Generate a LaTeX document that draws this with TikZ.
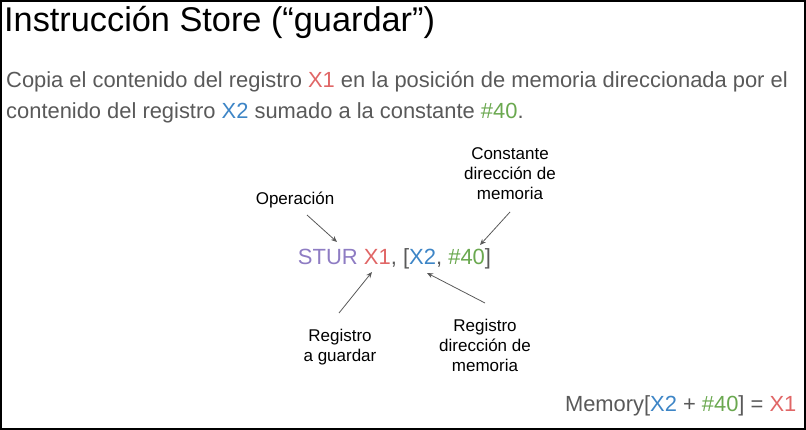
\documentclass[tikz,border=0pt]{standalone}
\usepackage{fontspec}
\setmainfont{Liberation Sans}
\usepackage{xcolor}
\usepackage{tikz}
\usetikzlibrary{arrows.meta}
\definecolor{textgray}{HTML}{595959}
\definecolor{regred}{HTML}{E06666}
\definecolor{regblue}{HTML}{3D85C6}
\definecolor{constgreen}{HTML}{6AA84F}
\definecolor{oppurple}{HTML}{8E7CC3}
\tikzstyle{title}=[anchor=base west, inner sep=0, font=\fontsize{34.3}{40}\selectfont]
\tikzstyle{body}=[anchor=base west, inner sep=0, text=textgray, font=\fontsize{21.9}{30.5}\selectfont]
\tikzstyle{label}=[inner sep=0, align=center, font=\fontsize{17}{20}\selectfont]
\tikzstyle{pointer}=[-{Stealth[length=6pt, width=5pt]}, draw=textgray, line width=0.8pt]
\newcommand{\rx}[1]{\textcolor{regred}{#1}}
\newcommand{\bx}[1]{\textcolor{regblue}{#1}}
\newcommand{\gx}[1]{\textcolor{constgreen}{#1}}
\pgfdeclarelayer{nodelayer}
\pgfdeclarelayer{edgelayer}
\pgfsetlayers{main,edgelayer,nodelayer}
\begin{document}
\begin{tikzpicture}[x=1pt, y=-1pt]
	\useasboundingbox (0,0) rectangle (806,430);
	\draw [line width=1.6pt] (0.8,0.8) rectangle (805.2,429.2);
	\begin{pgfonlayer}{nodelayer}
		\node [style=title] (0) at (4, 32) {Instrucción Store (“guardar”)};
		\node [style=body] (1) at (6, 88) {Copia el contenido del registro \rx{X1} en la posición de memoria direccionada por el};
		\node [style=body] (2) at (6, 118.5) {contenido del registro \bx{X2} sumado a la constante \gx{\#40}.};
		\node [style=body, anchor=base, font=\fontsize{22}{26}\selectfont] (3) at (394.5, 265) {\textcolor{oppurple}{STUR} \rx{X1}, [\bx{X2}, \gx{\#40}]};
		\node [style=label, anchor=base] (4) at (295, 205) {Operación};
		\node [style=label] (5) at (510, 173.8) {Constante\\dirección de\\memoria};
		\node [style=label] (6) at (340, 347.5) {Registro\\a guardar};
		\node [style=label] (7) at (485, 345.8) {Registro\\dirección de\\memoria};
		\node [style=body, anchor=base east] (8) at (796.5, 411) {Memory[\bx{X2} + \gx{\#40}] = \rx{X1}};
	\end{pgfonlayer}
	\begin{pgfonlayer}{edgelayer}
		\coordinate (9) at (307, 215);
		\coordinate (10) at (337, 242);
		\coordinate (11) at (510, 212);
		\coordinate (12) at (480, 245);
		\coordinate (13) at (339, 313);
		\coordinate (14) at (372, 272);
		\coordinate (15) at (485, 303);
		\coordinate (16) at (427, 273);
		\draw [style=pointer] (9) to (10);
		\draw [style=pointer] (11) to (12);
		\draw [style=pointer] (13) to (14);
		\draw [style=pointer] (15) to (16);
	\end{pgfonlayer}
\end{tikzpicture}
\end{document}
